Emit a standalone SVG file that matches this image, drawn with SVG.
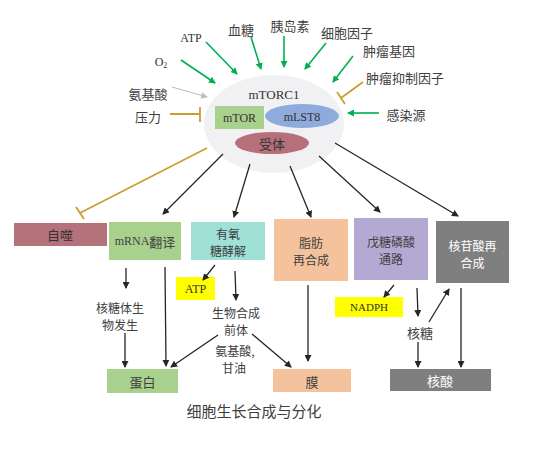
<svg xmlns="http://www.w3.org/2000/svg" width="554" height="456" viewBox="0 0 554 456">
<style>
.cn{font-family:"Noto Sans CJK SC","Noto Sans",sans-serif;font-size:13px;fill:#404040;text-anchor:middle;dominant-baseline:central}
.m{font-size:12px}
.lt{font-family:"Liberation Serif","Noto Sans CJK SC",serif;font-size:12px;fill:#333;text-anchor:middle;dominant-baseline:central}
.w{fill:#fff}
.g{stroke:#00b050;stroke-width:1.6;fill:none;marker-end:url(#ag)}
.k{stroke:#262626;stroke-width:1.3;fill:none;marker-end:url(#ak)}
.gr{stroke:#c0c0c0;stroke-width:1.2;fill:none;marker-end:url(#agr)}
.inh{stroke:#c9a030;stroke-width:1.8;fill:none}
</style>
<defs>
<marker id="ag" markerWidth="7" markerHeight="7" refX="6" refY="3.5" orient="auto" markerUnits="userSpaceOnUse"><path d="M0,0 L7,3.5 L0,7 Z" fill="#00b050"/></marker>
<marker id="ak" markerWidth="7" markerHeight="7" refX="6" refY="3.5" orient="auto" markerUnits="userSpaceOnUse"><path d="M0,0 L7,3.5 L0,7 Z" fill="#262626"/></marker>
<marker id="agr" markerWidth="7" markerHeight="7" refX="6" refY="3.5" orient="auto" markerUnits="userSpaceOnUse"><path d="M0,0 L7,3.5 L0,7 Z" fill="#c0c0c0"/></marker>
</defs>
<rect width="554" height="456" fill="#fff"/>

<g id="mTORC1">
<ellipse cx="274" cy="124" rx="70" ry="49" fill="#f1f1f4"/>
<text class="lt" x="274" y="94" style="font-size:13px">mTORC1</text>
</g>
<g id="mTOR"><rect x="215" y="106" width="49" height="23" fill="#a9d18e"/><text class="lt" x="239.5" y="118">mTOR</text></g>
<g id="mLST8"><ellipse cx="302" cy="116" rx="37" ry="12" fill="#8faadc"/><text class="lt" x="302" y="117">mLST8</text></g>
<g id="receptor"><ellipse cx="272" cy="143" rx="37" ry="11" fill="#b5707a"/><text class="cn" x="272" y="143" style="fill:#333">受体</text></g>

<g id="in-o2"><text class="lt" x="161" y="62">O<tspan font-size="8" dy="3">2</tspan></text></g>
<g id="in-atp"><text class="lt" x="191" y="38">ATP</text></g>
<g id="in-glucose"><text class="cn" x="241" y="29">血糖</text></g>
<g id="in-insulin"><text class="cn" x="290" y="25">胰岛素</text></g>
<g id="in-cytokine"><text class="cn" x="347" y="32">细胞因子</text></g>
<g id="in-oncogene"><text class="cn" x="389" y="50">肿瘤基因</text></g>
<g id="in-suppressor"><text class="cn" x="405" y="77">肿瘤抑制因子</text></g>
<g id="in-infection"><text class="cn" x="406" y="114">感染源</text></g>
<g id="in-aa"><text class="cn" x="148" y="93">氨基酸</text></g>
<g id="in-stress"><text class="cn" x="148" y="116">压力</text></g>

<g id="autophagy"><rect x="14" y="223" width="93" height="23" fill="#b5727a"/><text class="cn" x="60" y="234" style="fill:#333">自噬</text></g>
<g id="mrna"><rect x="109" y="222" width="72" height="38" fill="#a9d18e"/><text class="cn" x="145" y="241"><tspan style="font-family:'Liberation Serif',serif;font-size:12px">mRNA</tspan>翻译</text></g>
<g id="glycolysis"><rect x="191" y="222" width="74" height="38" fill="#9fe1d6"/><text class="cn m" x="228" y="233">有氧</text><text class="cn m" x="228" y="250">糖酵解</text></g>
<g id="lipid"><rect x="274" y="219" width="74" height="62" fill="#f4c29c"/><text class="cn m" x="311" y="242">脂肪</text><text class="cn m" x="311" y="259">再合成</text></g>
<g id="ppp"><rect x="354" y="218" width="74" height="62" fill="#b4a9d2"/><text class="cn m" x="391" y="241">戊糖磷酸</text><text class="cn m" x="391" y="258">通路</text></g>
<g id="nucleotide"><rect x="436" y="221" width="73" height="62" fill="#7f7f7f"/><text class="cn m w" x="472.5" y="245">核苷酸再</text><text class="cn m w" x="472.5" y="262">合成</text></g>

<g id="atp2"><rect x="176" y="277" width="39" height="23" fill="#ffff00"/><text class="lt" x="195.5" y="289">ATP</text></g>
<g id="nadph"><rect x="335" y="297" width="68" height="20" fill="#ffff00"/><text class="lt" x="369" y="307" style="font-size:11px">NADPH</text></g>
<g id="ribosome"><text class="cn m" x="120" y="307">核糖体生</text><text class="cn m" x="120" y="324">物发生</text></g>
<g id="precursor"><text class="cn m" x="236" y="312">生物合成</text><text class="cn m" x="236" y="329">前体</text></g>
<g id="aa-glycerol"><text class="cn m" x="235" y="350">氨基酸,</text><text class="cn m" x="234" y="367">甘油</text></g>
<g id="ribose"><text class="cn" x="420" y="332">核糖</text></g>
<g id="protein"><rect x="107" y="369" width="71" height="24" fill="#a9d18e"/><text class="cn" x="142.5" y="381">蛋白</text></g>
<g id="membrane"><rect x="273" y="369" width="78" height="23" fill="#f4c29c"/><text class="cn" x="312" y="381">膜</text></g>
<g id="nucleic"><rect x="390" y="369" width="101" height="22" fill="#7f7f7f"/><text class="cn w" x="440" y="380">核酸</text></g>
<g id="caption"><text class="cn" x="254" y="410" style="font-size:15px">细胞生长合成与分化</text></g>

<g id="connectors">
<line class="g" x1="181" y1="60" x2="215" y2="83"/>
<line class="g" x1="206" y1="42" x2="237" y2="74"/>
<line class="g" x1="251" y1="37" x2="261" y2="69"/>
<line class="g" x1="284" y1="36" x2="284" y2="67"/>
<line class="g" x1="326" y1="43" x2="305" y2="69"/>
<line class="g" x1="353" y1="56" x2="333" y2="82"/>
<line class="g" x1="379" y1="113" x2="348" y2="113"/>
<line class="gr" x1="172" y1="87" x2="207" y2="97"/>
<path class="inh" d="M170,114 H200 M200,107 V122"/>
<path class="inh" d="M363,82 L341,98 M337,92 L345,104"/>
<path class="inh" d="M207,148 L80,213 M76,207 L84,219"/>
<line class="k" x1="223" y1="154" x2="163" y2="214"/>
<line class="k" x1="250" y1="164" x2="234" y2="217"/>
<line class="k" x1="290" y1="166" x2="311" y2="217"/>
<line class="k" x1="319" y1="156" x2="380" y2="212"/>
<line class="k" x1="335" y1="143" x2="458" y2="216"/>
<line class="k" x1="126" y1="268" x2="126" y2="288"/>
<line class="k" x1="125" y1="333" x2="125" y2="367"/>
<line class="k" x1="165" y1="267" x2="166" y2="366"/>
<line class="k" x1="215" y1="265" x2="203" y2="280"/>
<line class="k" x1="235" y1="271" x2="236" y2="300"/>
<line class="k" x1="218" y1="335" x2="171" y2="367"/>
<line class="k" x1="252" y1="334" x2="291" y2="367"/>
<line class="k" x1="308" y1="285" x2="308" y2="361"/>
<line class="k" x1="394" y1="285" x2="384" y2="297"/>
<line class="k" x1="417" y1="288" x2="418" y2="316"/>
<line class="k" x1="429" y1="322" x2="449" y2="289"/>
<line class="k" x1="418" y1="342" x2="418" y2="367"/>
<line class="k" x1="461" y1="288" x2="461" y2="367"/>
</g>
</svg>
